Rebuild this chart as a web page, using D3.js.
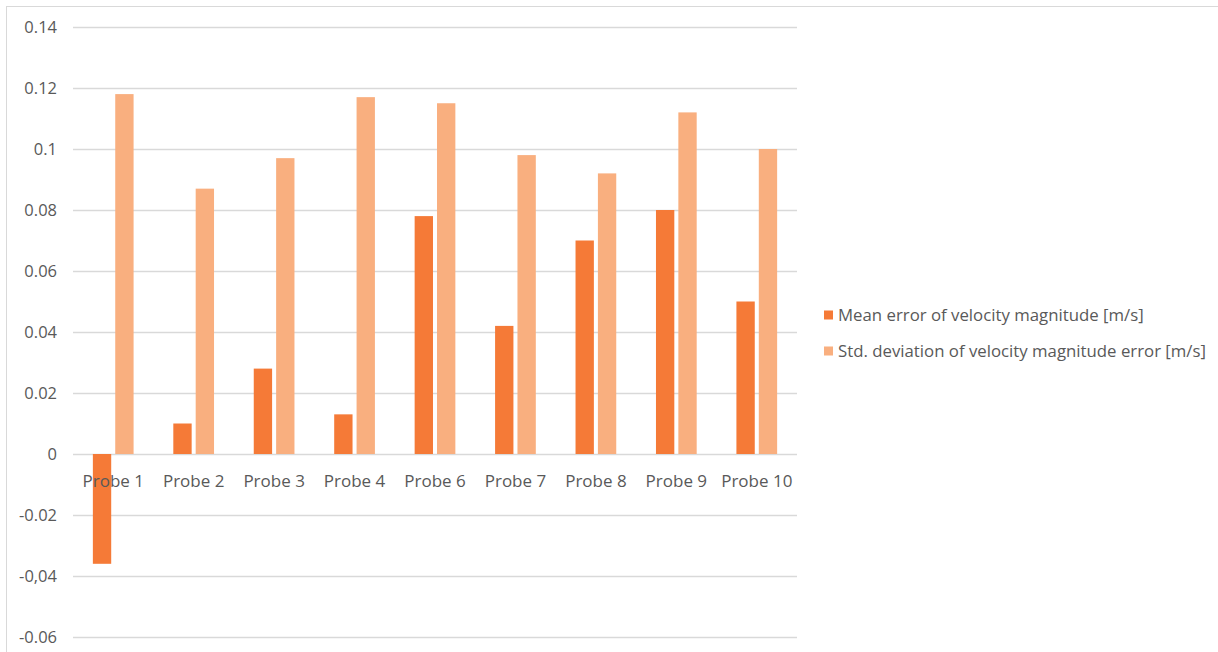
<!DOCTYPE html>
<html>
<head>
<meta charset="utf-8">
<script src="https://cdn.jsdelivr.net/npm/d3@7"></script>
<style>
  html, body { margin: 0; padding: 0; background: #fff; }
  svg { display: block; }
  text { font-family: "Open Sans", "Liberation Sans", sans-serif; fill: #595959; }
</style>
</head>
<body>
<svg id="chart" width="1218" height="652"></svg>
<script>
// Probe labels (no Probe 5 in the measurement set)
const categories = ["Probe 1", "Probe 2", "Probe 3", "Probe 4", "Probe 6", "Probe 7", "Probe 8", "Probe 9", "Probe 10"];
const meanError = [-0.036, 0.010, 0.028, 0.013, 0.078, 0.042, 0.070, 0.080, 0.050];
const stdDeviation = [0.118, 0.087, 0.097, 0.117, 0.115, 0.098, 0.092, 0.112, 0.100];
const seriesNames = ["Mean error of velocity magnitude [m/s]", "Std. deviation of velocity magnitude error [m/s]"];
const seriesColors = ["#F57A37", "#F9AF7F"];
const tickValues = [-0.06, -0.04, -0.02, 0, 0.02, 0.04, 0.06, 0.08, 0.1, 0.12, 0.14];
const tickLabels = ["-0.06", "-0,04", "-0.02", "0", "0.02", "0.04", "0.06", "0.08", "0.1", "0.12", "0.14"];

const FONT = '"Open Sans", "Liberation Sans", sans-serif';
const svg = d3.select("#chart");

// chart frame
svg.append("rect")
  .attr("x", 6.5).attr("y", 6.5)
  .attr("width", 1230).attr("height", 700)
  .attr("fill", "none").attr("stroke", "#D9D9D9").attr("stroke-width", 1);

const plot = { left: 73, right: 797, top: 27, bottom: 637 };

const x = d3.scaleBand()
  .domain(categories)
  .range([plot.left, plot.right])
  .paddingInner(0).paddingOuter(0);

const y = d3.scaleLinear()
  .domain([-0.06, 0.14])
  .range([plot.bottom, plot.top]);

// bars: width derived from the category band, small gap between the pair
const barW = x.bandwidth() * 0.228;
const pairGap = barW * 0.22;
const inner = d3.scaleOrdinal()
  .domain([0, 1])
  .range([-(pairGap / 2 + barW), pairGap / 2]);

// grid lines
svg.append("g")
  .selectAll("line")
  .data(tickValues)
  .join("line")
  .attr("x1", plot.left).attr("x2", plot.right)
  .attr("y1", d => Math.round(y(d)) + 0.5)
  .attr("y2", d => Math.round(y(d)) + 0.5)
  .attr("stroke", "#D9D9D9").attr("stroke-width", 1.3);

// y-axis labels
const yAxis = d3.axisLeft(y)
  .tickValues(tickValues)
  .tickFormat((d, i) => tickLabels[i])
  .tickSize(0).tickPadding(0);
const yg = svg.append("g").attr("transform", `translate(57,0)`).call(yAxis);
yg.select(".domain").remove();
yg.selectAll("text")
  .style("font-size", "16.5px")
  .style("font-family", FONT)
  .attr("fill", "#595959");

// bars
const series = [meanError, stdDeviation];
series.forEach((vals, s) => {
  svg.append("g")
    .selectAll("rect")
    .data(vals.map((v, i) => ({ cat: categories[i], v })))
    .join("rect")
    .attr("x", d => x(d.cat) + x.bandwidth() / 2 + inner(s))
    .attr("width", barW)
    .attr("y", d => y(Math.max(0, d.v)))
    .attr("height", d => Math.abs(y(d.v) - y(0)))
    .attr("fill", seriesColors[s]);
});

// category labels sit just under the zero line
const xAxis = d3.axisBottom(x).tickSize(0).tickPadding(0);
const xg = svg.append("g").attr("transform", `translate(0,${y(0)})`).call(xAxis);
xg.select(".domain").remove();
xg.selectAll("text")
  .attr("y", 33)
  .attr("dy", 0)
  .style("font-size", "17px")
  .style("font-family", FONT)
  .attr("fill", "#595959");

// legend
const legend = svg.append("g").attr("transform", "translate(824,0)");
const legendY = [315, 351];
seriesNames.forEach((name, i) => {
  legend.append("rect")
    .attr("x", 0).attr("y", legendY[i] - 4.5)
    .attr("width", 9).attr("height", 9)
    .attr("fill", seriesColors[i]);
  legend.append("text")
    .attr("x", 14).attr("y", legendY[i])
    .attr("dy", "0.35em")
    .style("font-size", "16.8px")
    .text(name);
});
</script>
</body>
</html>
